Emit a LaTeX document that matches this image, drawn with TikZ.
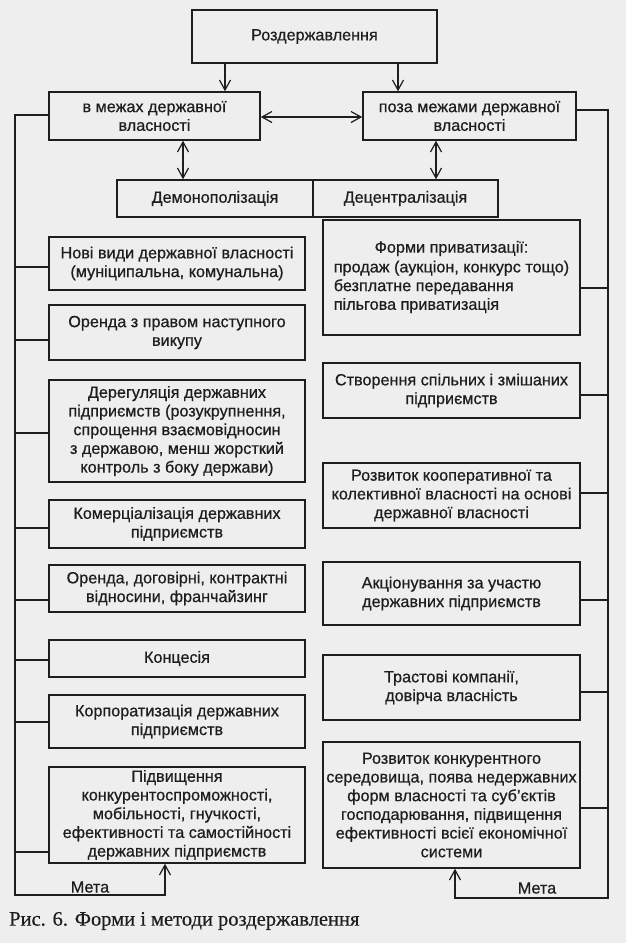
\documentclass[tikz,border=0pt]{standalone}
\usepackage{fontspec}
\setmainfont{Liberation Serif}
\newfontfamily\boxfont[FakeBold=0.6]{Liberation Sans}
\newfontfamily\capfont[FakeBold=0.5]{Liberation Serif}
\usetikzlibrary{arrows.meta}
\definecolor{paper}{RGB}{238,238,238}
\definecolor{ink}{RGB}{30,30,30}
\tikzset{
  box/.style={draw=ink, line width=1.5pt, inner xsep=0.5pt, inner ysep=1pt, align=center, text=ink,
    font={\boxfont\fontsize{16.2}{18.7}\selectfont}},
  conn/.style={draw=ink, line width=1.2pt},
  arr/.style={conn, -{Straight Barb[length=10pt,width=11pt,line width=1.2pt]}},
  darr/.style={conn, {Straight Barb[length=10pt,width=11pt,line width=1.2pt]}-{Straight Barb[length=10pt,width=11pt,line width=1.2pt]}},
  lbl/.style={text=ink, inner sep=0pt, font={\boxfont\fontsize{16.2}{18.7}\selectfont}},
}
\begin{document}
\begin{tikzpicture}[x=1pt,y=-1pt]
\useasboundingbox (0,0) rectangle (626,943);
\fill[paper] (0,0) rectangle (626,943);

% top level
\node[box, minimum width=245, minimum height=53] (T) at (314.5,36.5) {Роздержавлення};
\node[box, minimum width=211, minimum height=48] (L1) at (154.5,116) {в межах державної\\власності};
\node[box, minimum width=213, minimum height=48] (R1) at (469.5,116) {поза межами державної\\власності};
\node[box, minimum width=196, minimum height=37] (Dm) at (215,198.5) {Демонополізація};
\node[box, minimum width=185, minimum height=37] (Dc) at (405.5,198.5) {Децентралізація};

% left column
\node[box, minimum width=256, minimum height=53] (A1) at (177,263.5) {Нові види державної власності\\(муніципальна, комунальна)};
\node[box, minimum width=256, minimum height=55] (A2) at (177,332.5) {Оренда з правом наступного\\викупу};
\node[box, minimum width=256, minimum height=102] (A3) at (177,431) {Дерегуляція державних\\підприємств (розукрупнення,\\спрощення взаємовідносин\\з державою, менш жорсткий\\контроль з боку держави)};
\node[box, minimum width=256, minimum height=48] (A4) at (177,524) {Комерціалізація державних\\підприємств};
\node[box, minimum width=256, minimum height=47] (A5) at (177,588.5) {Оренда, договірні, контрактні\\відносини, франчайзинг};
\node[box, minimum width=256, minimum height=37] (A6) at (177,658.5) {Концесія};
\node[box, minimum width=256, minimum height=53] (A7) at (177,721.5) {Корпоратизація державних\\підприємств};
\node[box, minimum width=256, minimum height=96] (A8) at (177,815) {Підвищення\\конкурентоспроможності,\\мобільності, гнучкості,\\ефективності та самостійності\\державних підприємств};

% right column
\node[box, minimum width=257, minimum height=115] (B1) at (451.5,277.5) {\begin{tabular}{@{}l@{}}\multicolumn{1}{@{}c@{}}{Форми приватизації:}\\[1pt]продаж (аукціон, конкурс тощо)\\безплатне передавання\\пільгова приватизація\end{tabular}};
\node[box, minimum width=257, minimum height=55] (B2) at (451.5,390.5) {Створення спільних і змішаних\\підприємств};
\node[box, minimum width=257, minimum height=65] (B3) at (451.5,495.5) {Розвиток кооперативної та\\колективної власності на основі\\державної власності};
\node[box, minimum width=257, minimum height=63] (B4) at (451.5,593.5) {Акціонування за участю\\державних підприємств};
\node[box, minimum width=257, minimum height=65] (B5) at (451.5,687.5) {Трастові компанії,\\довірча власність};
\node[box, minimum width=257, minimum height=126] (B6) at (451.5,805) {Розвиток конкурентного\\середовища, поява недержавних\\форм власності та суб’єктів\\господарювання, підвищення\\ефективності всієї економічної\\системи};

% labels
\node[lbl] (M1) at (90,887) {Мета};
\node[lbl] (M2) at (537,888) {Мета};
\node[anchor=west, inner sep=0pt, text=ink, font={\capfont\fontsize{20.5}{24}\selectfont}] (cap) at (9,921) {Рис. 6. Форми і методи роздержавлення};

% helper coordinates
\coordinate (xa) at (225,0);
\coordinate (xb) at (398,0);
\coordinate (ym) at (0,117);
\coordinate (xdl) at (183,0);
\coordinate (xdr) at (436,0);
\coordinate (Ltop) at (15,115);
\coordinate (Lbot) at (15,895);
\coordinate (Lend) at (165,895);
\coordinate (Rtop) at (608,110);
\coordinate (Rbot) at (608,898);
\coordinate (Rend) at (455,898);

% top arrows
\draw[arr] (T.south -| xa) -- (L1.north -| xa);
\draw[arr] (T.south -| xb) -- (R1.north -| xb);
\draw[darr] (L1.east |- ym) -- (R1.west |- ym);
\draw[darr] (L1.south -| xdl) -- (Dm.north -| xdl);
\draw[darr] (R1.south -| xdr) -- (Dc.north -| xdr);

% left spine
\draw[arr] (L1.west |- Ltop) -- (Ltop) -- (Lbot) -- (Lend) -- (A8.south -| Lend);
\foreach \n/\y in {A1/267,A2/340,A3/433,A4/528,A5/600,A6/660,A7/722,A8/852}{
  \coordinate (s\n) at (15,\y);
  \draw[conn] (s\n) -- (s\n -| \n.west);
}
% right spine
\draw[arr] (R1.east |- Rtop) -- (Rtop) -- (Rbot) -- (Rend) -- (B6.south -| Rend);
\foreach \n/\y in {B1/288,B2/395,B3/493,B4/600,B5/692,B6/808}{
  \coordinate (s\n) at (608,\y);
  \draw[conn] (s\n) -- (s\n -| \n.east);
}
\end{tikzpicture}
\end{document}
